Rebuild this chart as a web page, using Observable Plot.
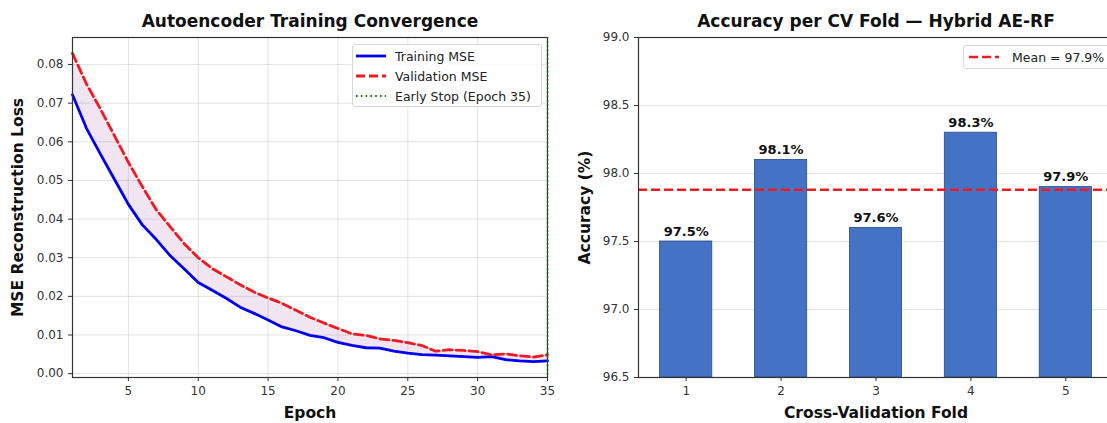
<!DOCTYPE html>
<html><head><meta charset="utf-8">
<script src="https://cdn.jsdelivr.net/npm/d3@7"></script>
<script src="https://cdn.jsdelivr.net/npm/@observablehq/plot@0.6"></script>
<style>
body{margin:0;background:#fff;overflow:hidden;font-family:"DejaVu Sans",sans-serif;}
#wrap{position:relative;width:1107px;height:423px;overflow:hidden;background:#fff;}
.panel{position:absolute;top:0;}
.legend{position:absolute;background:rgba(255,255,255,0.85);border:1px solid #d6d6d6;border-radius:3px;font-size:12.5px;color:#222;box-sizing:border-box;}
.legend .row{position:absolute;left:0;display:flex;align-items:center;height:20px;white-space:nowrap;}
.legend svg{display:block;}
</style></head><body><div id="wrap"></div>
<script>
// ---- Left panel data ----
const epochs = [1,2,3,4,5,6,7,8,9,10,11,12,13,14,15,16,17,18,19,20,21,22,23,24,25,26,27,28,29,30,31,32,33,34,35];
const trainMSE = [0.0722,0.0635,0.0568,0.0503,0.0438,0.0385,0.0347,0.0305,0.0271,0.0236,0.0216,0.0195,0.0172,0.0156,0.0139,0.0121,0.0111,0.0099,0.0093,0.0081,0.0073,0.0067,0.0066,0.0058,0.0053,0.0049,0.0048,0.0046,0.0044,0.0042,0.0044,0.0036,0.0033,0.0031,0.0033];
const valMSE = [0.0829,0.0750,0.0685,0.0616,0.0547,0.0484,0.0424,0.0380,0.0336,0.0300,0.0272,0.0251,0.0230,0.0211,0.0196,0.0182,0.0164,0.0146,0.0131,0.0117,0.0103,0.0099,0.0090,0.0086,0.0080,0.0073,0.0058,0.0062,0.0060,0.0057,0.0049,0.0051,0.0046,0.0043,0.0049];
const earlyStopEpoch = 35;
const epochTicks = [5,10,15,20,25,30,35];
const lossTicks = [0,0.01,0.02,0.03,0.04,0.05,0.06,0.07,0.08];
const leftTitle = "Autoencoder Training Convergence";
const leftXLabel = "Epoch";
const leftYLabel = "MSE Reconstruction Loss";
const leftLegend = ["Training MSE","Validation MSE","Early Stop (Epoch 35)"];

// ---- Right panel data ----
const folds = [1,2,3,4,5];
const accuracy = [97.5,98.1,97.6,98.3,97.9];
const accTicks = [96.5,97.0,97.5,98.0,98.5,99.0];
const rightTitle = "Accuracy per CV Fold \u2014 Hybrid AE-RF";
const rightXLabel = "Cross-Validation Fold";
const rightYLabel = "Accuracy (%)";

const wrap = document.getElementById("wrap");
const FONT = "DejaVu Sans";
const RED = "#f01a20", BLUE = "#0000f0", GRID = "#b0b0b0";
const LABEL_SIZE = 15.5;

const lossData = epochs.map((e,i)=>({epoch:e, train:trainMSE[i], val:valMSE[i]}));

const left = Plot.plot({
  width:560, height:423, marginLeft:72, marginRight:13, marginTop:37, marginBottom:46,
  style:{fontFamily:FONT, fontSize:"12px", color:"#333", background:"transparent", overflow:"visible"},
  x:{domain:[1,35]},
  y:{domain:[-0.001,0.087]},
  marks:[
    Plot.gridX(epochTicks,{stroke:GRID, strokeOpacity:0.35}),
    Plot.gridY(lossTicks,{stroke:GRID, strokeOpacity:0.35}),
    Plot.areaY(lossData,{x:"epoch", y1:"train", y2:"val", fill:"purple", fillOpacity:0.1}),
    Plot.lineY(lossData,{x:"epoch", y:"train", stroke:BLUE, strokeWidth:2.8}),
    Plot.lineY(lossData,{x:"epoch", y:"val", stroke:RED, strokeWidth:2.8, strokeDasharray:"9,4"}),
    Plot.frame({stroke:"#333", strokeWidth:1.2}),
    Plot.ruleX([earlyStopEpoch],{stroke:"green", strokeWidth:1.6, strokeDasharray:"1.6,2.6"}),
    Plot.axisX({ticks:epochTicks, tickSize:4, tickPadding:5, label:null, stroke:"#333", fill:"#333"}),
    Plot.axisY({ticks:lossTicks, tickFormat:".2f", tickSize:4, tickPadding:5, label:null, stroke:"#333", fill:"#333"}),
    Plot.text([leftTitle],{frameAnchor:"top", dy:-16, lineAnchor:"middle", fontSize:17, fontWeight:"bold", fill:"#111"}),
    Plot.text([leftXLabel],{frameAnchor:"bottom", dy:36, lineAnchor:"middle", fontSize:LABEL_SIZE, fontWeight:"bold", fill:"#111"}),
    Plot.text([leftYLabel],{frameAnchor:"left", dx:-54, rotate:-90, textAnchor:"middle", lineAnchor:"middle", fontSize:LABEL_SIZE, fontWeight:"bold", fill:"#111"})
  ]
});
left.classList.add("panel");
left.style.left = "0px";
wrap.appendChild(left);

const foldData = folds.map((f,i)=>({fold:f, acc:accuracy[i]}));
const meanAcc = d3.mean(accuracy);
const barHalf = 0.275;

const right = Plot.plot({
  width:570, height:423, marginLeft:78, marginRight:17, marginTop:37, marginBottom:46,
  style:{fontFamily:FONT, fontSize:"12px", color:"#333", background:"transparent", overflow:"visible"},
  x:{domain:[1-0.5025, 5+0.5025]},
  y:{domain:[96.5,99.0]},
  marks:[
    Plot.gridY(accTicks,{stroke:GRID, strokeOpacity:0.35}),
    Plot.rectY(foldData,{x1:d=>d.fold-barHalf, x2:d=>d.fold+barHalf, y1:96.5, y2:"acc", fill:"#4472c4", stroke:"#2a4a86", strokeWidth:0.8}),
    Plot.ruleY([meanAcc],{stroke:RED, strokeWidth:2.4, strokeDasharray:"9,4"}),
    Plot.text(foldData,{x:"fold", y:"acc", text:d=>d.acc.toFixed(1)+"%", dy:-6, lineAnchor:"bottom", fontSize:13, fontWeight:"bold", fill:"#111"}),
    Plot.frame({stroke:"#333", strokeWidth:1.2}),
    Plot.axisX({ticks:folds, tickFormat:d=>String(d), tickSize:4, tickPadding:5, label:null, stroke:"#333", fill:"#333"}),
    Plot.axisY({ticks:accTicks, tickFormat:".1f", tickSize:4, tickPadding:5, label:null, stroke:"#333", fill:"#333"}),
    Plot.text([rightTitle],{frameAnchor:"top", dy:-16, lineAnchor:"middle", fontSize:17, fontWeight:"bold", fill:"#111"}),
    Plot.text([rightXLabel],{frameAnchor:"bottom", dy:36, lineAnchor:"middle", fontSize:LABEL_SIZE, fontWeight:"bold", fill:"#111"}),
    Plot.text([rightYLabel],{frameAnchor:"left", dx:-53, rotate:-90, textAnchor:"middle", lineAnchor:"middle", fontSize:LABEL_SIZE, fontWeight:"bold", fill:"#111"})
  ]
});
right.classList.add("panel");
right.style.left = "560px";
wrap.appendChild(right);

// ---- Legends ----
function sample(stroke, dash, w){
  return `<svg width="30" height="10"><line x1="0" y1="5" x2="30" y2="5" stroke="${stroke}" stroke-width="${w}" ${dash?`stroke-dasharray="${dash}"`:""}/></svg>`;
}
const lg1 = document.createElement("div");
lg1.className = "legend";
Object.assign(lg1.style,{left:"352px", top:"44px", width:"190px", height:"63px"});
const styles1 = [[BLUE,null,2.8],[RED,"9,4",2.8],["green","1.6,3.2",1.8]];
leftLegend.forEach((t,i)=>{
  const r = document.createElement("div");
  r.className = "row";
  r.style.top = (1 + i*20.2) + "px";
  r.style.left = "3px";
  r.innerHTML = sample(...styles1[i]) + `<span style="margin-left:9px">${t}</span>`;
  lg1.appendChild(r);
});
wrap.appendChild(lg1);

const lg2 = document.createElement("div");
lg2.className = "legend";
Object.assign(lg2.style,{left:"963px", top:"45px", width:"150px", height:"24px"});
const r2 = document.createElement("div");
r2.className = "row";
r2.style.top = "1px"; r2.style.left = "5px";
r2.innerHTML = sample(RED,"9,4",2.4) + `<span style="margin-left:13px">Mean = ${meanAcc.toFixed(1)}%</span>`;
lg2.appendChild(r2);
wrap.appendChild(lg2);
</script>
</body></html>
